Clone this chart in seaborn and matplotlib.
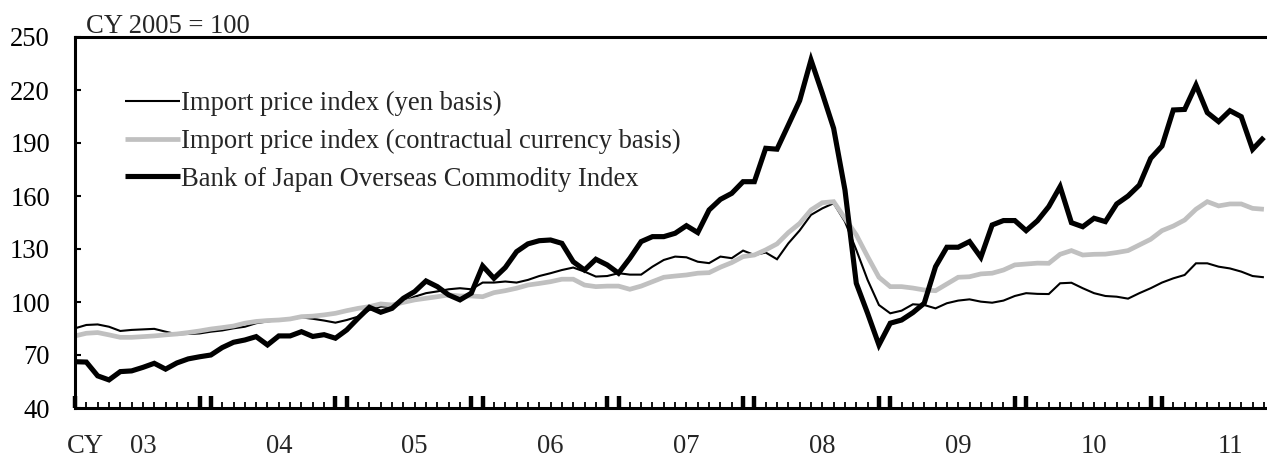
import numpy as np
import pandas as pd
import matplotlib
matplotlib.use("Agg")
import matplotlib.pyplot as plt
from matplotlib.ticker import FixedLocator, NullFormatter
import seaborn as sns

# Monthly series, Jan 2003 onward (CY 2005 = 100)
yen_basis = [85.1, 87, 87.3, 86, 83.6, 84.2, 84.5, 84.8, 83.2, 81.7, 81.9, 82.2,
             83.2, 83.9, 85.1, 86, 88, 89, 89.8, 90.2, 91.3, 90.5, 89.5, 88.3,
             89.8, 91.7, 95.5, 97.4, 97.4, 100.2, 103, 105, 106, 107.2, 107.8, 107.2,
             111, 111, 111.6, 111, 112.5, 114.7, 116.3, 118.1, 119.5, 117.2, 114.4, 114.7,
             116.3, 115.5, 115.5, 120, 123.8, 125.7, 125.3, 122.8, 122, 125.7, 124.8, 129.1,
             126.6, 128, 124.2, 133.2, 140.5, 149.3, 153, 155.9, 145.5, 129.5, 112.5, 98.3,
             93.6, 95.1, 98.7, 98.3, 96.4, 99.3, 100.8, 101.5, 100.2, 99.6, 100.8, 103.4,
             105, 104.6, 104.5, 110.6, 110.9, 107.8, 105, 103.4, 103, 101.9, 105, 107.8,
             111, 113.4, 115.3, 121.9, 121.9, 120, 119, 117.2, 114.7, 114]

contract_basis = [80.8, 82.3, 82.7, 81.4, 80, 80, 80.4, 80.8, 81.4, 81.9, 82.7, 83.6,
                  84.7, 85.5, 86.4, 88, 89, 89.5, 89.8, 90.4, 91.7, 92, 92.7, 93.6,
                  95.1, 96.4, 97.4, 98.9, 98.3, 99.8, 101.2, 102.1, 103, 104, 103.4, 103.4,
                  103, 105.3, 106.4, 107.8, 109.6, 110.5, 111.5, 112.9, 112.9, 109.6, 108.7, 109,
                  109, 107.2, 109, 111.5, 114, 114.7, 115.3, 116.3, 116.6, 119.7, 122.3, 125.7,
                  126.6, 129.5, 132.9, 139.3, 144.5, 152.1, 156.2, 156.8, 147.4, 138, 125.7, 114,
                  108.7, 108.7, 107.9, 106.8, 106.4, 110.2, 114, 114.3, 115.9, 116.3, 118.1, 121,
                  121.5, 122, 121.9, 127, 129.1, 126.6, 127, 127.1, 128, 129.1, 132.3, 135.5,
                  140.4, 143, 146.4, 152.5, 156.8, 154.4, 155.5, 155.5, 153, 152.5]

boj_commodity = [66.2, 66, 58.2, 55.9, 60.6, 61, 63, 65.3, 62, 65.5, 67.8, 69,
                 70, 74.2, 77.2, 78.5, 80.4, 75.7, 80.8, 80.8, 83.2, 80.5, 81.5, 79.5,
                 84.2, 90.8, 97, 94.2, 96.4, 102.1, 105.9, 111.9, 108.7, 104, 101.2, 105,
                 120.4, 113.4, 119.5, 128.5, 132.9, 134.7, 135.1, 133.2, 122.8, 118.1, 124.2, 121,
                 116.3, 124.7, 134.2, 137, 137, 138.9, 143.2, 139.3, 152.1, 158.1, 161.5, 168.1,
                 168.1, 187, 186.5, 200.2, 214, 237, 218.1, 198.3, 163.4, 110.6, 93.6, 75.7,
                 88, 89.8, 94, 99.3, 120, 131, 131, 134.2, 125.3, 143.6, 146.1, 146.1,
                 140.4, 146, 154, 165.3, 144.9, 142.6, 147.4, 145.5, 155.5, 160, 166.2, 181.3,
                 188.3, 208.7, 209, 222.8, 207.2, 202.1, 208.3, 204.9, 186.4, 193.2]

series_names = ["Import price index (yen basis)",
                "Import price index (contractual currency basis)",
                "Bank of Japan Overseas Commodity Index"]
year_labels = ["03", "04", "05", "06", "07", "08", "09", "10", "11"]
y_ticks = [40, 70, 100, 130, 160, 190, 220, 250]

month = np.arange(len(yen_basis))
df = pd.DataFrame({
    "month": np.tile(month, 3),
    "value": yen_basis + contract_basis + boj_commodity,
    "series": np.repeat(series_names, len(month)),
})

sns.set_style("white")
plt.rcParams["font.family"] = ["Liberation Serif", "DejaVu Serif"]
FS = 19.2

fig = plt.figure(figsize=(12.67, 4.57), dpi=100)
W, H = 1267, 457
ax = fig.add_axes([75 / W, (H - 408) / H, (W - 75) / W, 371 / H])

styles = {
    series_names[0]: dict(color="black", lw=1.5),
    series_names[1]: dict(color="#c0c0c0", lw=3.4),
    series_names[2]: dict(color="black", lw=3.7),
}
for name in series_names:
    sns.lineplot(data=df[df["series"] == name], x="month", y="value", ax=ax,
                 color=styles[name]["color"], linewidth=styles[name]["lw"],
                 label=name, solid_joinstyle="miter", solid_capstyle="butt")

px_per_month = 1087 / 96
ax.set_xlim(0, (W - 75) / px_per_month)
ax.set_ylim(40, 250)
ax.set_xlabel("")
ax.set_ylabel("")

# frame
for side in ["left", "bottom", "top"]:
    ax.spines[side].set_visible(True)
    ax.spines[side].set_linewidth(2.2)
    ax.spines[side].set_color("black")
ax.spines["right"].set_visible(False)

# y axis
ax.set_yticks(y_ticks)
ax.set_yticklabels([str(v) for v in y_ticks], fontsize=FS)
ax.tick_params(axis="y", direction="in", length=4, width=1.5, pad=18,
               left=True, right=False, colors="black")

# x axis: monthly ticks, heavier ticks around each year boundary
n_months = 106
major = [0] + [m for k in range(1, 10) for m in (12 * k - 1, 12 * k) if m < n_months]
minor = [m for m in range(n_months) if m not in major]
ax.xaxis.set_major_locator(FixedLocator(major))
ax.xaxis.set_minor_locator(FixedLocator(minor))
ax.xaxis.set_major_formatter(NullFormatter())
ax.tick_params(axis="x", which="major", direction="in", length=9, width=3.2,
               bottom=True, top=False, color="black")
ax.tick_params(axis="x", which="minor", direction="in", length=4, width=1.3,
               bottom=True, top=False, color="black")

# year labels centred on each year
trans = ax.get_xaxis_transform()
label_y = -(453 - 408) / 371
for k, lab in enumerate(year_labels):
    ax.text(12 * k + 6, label_y, lab, transform=trans, ha="center", va="baseline",
            fontsize=FS)
ax.text(0.95, label_y, "CY", transform=trans, ha="center", va="baseline",
        fontsize=FS)

fig.text(86 / W, 1 - 33 / H, "CY 2005 = 100", ha="left", va="baseline",
         fontsize=FS)

leg = ax.legend(loc="upper left", bbox_to_anchor=(125 / W, 1 - 91 / H),
                bbox_transform=fig.transFigure, frameon=False, fontsize=FS,
                handlelength=2.05, handletextpad=0.05, labelspacing=0.475,
                borderpad=0, borderaxespad=0)

fig.savefig("out.png", dpi=100, facecolor="white")
